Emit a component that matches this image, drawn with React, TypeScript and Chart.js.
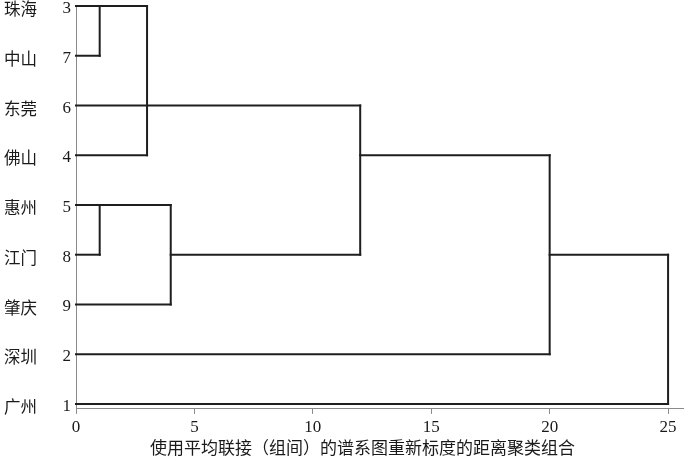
import React, { useEffect, useRef } from "react";
import { Chart, registerables } from "chart.js";

Chart.register(...registerables);

// Leaves from top to bottom
const leafNames = ["珠海", "中山", "东莞", "佛山", "惠州", "江门", "肇庆", "深圳", "广州"];
const leafIds = ["3", "7", "6", "4", "5", "8", "9", "2", "1"];
const xTicks = [0, 5, 10, 15, 20, 25];
const xTitle = "使用平均联接（组间）的谱系图重新标度的距离聚类组合";

// Horizontal links: [fromDistance, toDistance, leafRow]
const horizontalLinks: number[][] = [
  [0, 3, 0],
  [0, 1, 1],
  [0, 12, 2],
  [0, 3, 3],
  [12, 20, 3],
  [0, 4, 4],
  [0, 1, 5],
  [4, 12, 5],
  [20, 25, 5],
  [0, 4, 6],
  [0, 20, 7],
  [0, 25, 8],
];

// Vertical links: [distance, fromRow, toRow]
const verticalLinks: number[][] = [
  [1, 0, 1],
  [3, 0, 3],
  [1, 4, 5],
  [4, 4, 6],
  [12, 2, 5],
  [20, 3, 7],
  [25, 5, 8],
];

const LINE = "#1e1e1e";
const AXIS = "#8a8a8a";
const SERIF = "'Liberation Serif', 'Noto Sans CJK SC', serif";

export default function App() {
  const ref = useRef<HTMLCanvasElement | null>(null);

  useEffect(() => {
    if (!ref.current) return;
    const seg = (pts: { x: number; y: number }[]) => ({
      type: "line" as const,
      data: pts,
      borderColor: LINE,
      borderWidth: 2,
      pointRadius: 0,
      fill: false,
      clip: false as any,
      xAxisID: "x",
      yAxisID: "yNum",
      borderCapStyle: "square" as const,
    });
    const datasets: any[] = [
      ...horizontalLinks.map(([a, b, r]) => seg([{ x: a, y: r }, { x: b, y: r }])),
      ...verticalLinks.map(([d, r0, r1]) => seg([{ x: d, y: r0 }, { x: d, y: r1 }])),
    ];
    const rowTicks = (scale: any) => {
      scale.ticks = leafNames.map((_, i) => ({ value: i }));
    };
    const fitY = (w: number) => (scale: any) => {
      scale.width = w;
      scale.paddingTop = 0;
      scale.paddingBottom = 0;
    };
    const chart = new Chart(ref.current, {
      type: "line",
      data: { datasets },
      options: {
        animation: false,
        responsive: false,
        events: [],
        layout: { padding: { left: 4, top: 6, right: 17, bottom: 0 } },
        plugins: { legend: { display: false }, tooltip: { enabled: false }, title: { display: false } },
        scales: {
          x: {
            type: "linear",
            position: "bottom",
            min: 0,
            max: 25.63,
            afterBuildTicks: (scale: any) => {
              scale.ticks = xTicks.map((v) => ({ value: v }));
            },
            grid: { display: true, drawOnChartArea: false, drawTicks: true, tickLength: 5, color: AXIS },
            border: { display: true, color: AXIS, width: 1 },
            ticks: { padding: 3, color: "#1a1a1a", font: { family: SERIF, size: 17 } },
            title: {
              display: true,
              text: xTitle + "\u3000\u3000",
              color: "#1a1a1a",
              font: { family: SERIF, size: 17, lineHeight: 1.1 },
              padding: { top: 0, bottom: 2 },
            },
          },
          yNum: {
            type: "linear",
            position: "left",
            weight: 0,
            reverse: true,
            min: 0,
            max: 8.1,
            afterBuildTicks: rowTicks,
            afterFit: fitY(14),
            grid: { display: false, drawTicks: false },
            border: { display: true, color: AXIS, width: 1 },
            ticks: {
              padding: 5,
              color: "#1a1a1a",
              font: { family: SERIF, size: 17, lineHeight: 0.3 },
              callback: (v: any) => ["", leafIds[Math.round(Number(v))] ?? ""],
            },
          },
          yName: {
            type: "linear",
            position: "left",
            weight: 1,
            reverse: true,
            min: 0,
            max: 8.1,
            afterBuildTicks: rowTicks,
            afterFit: fitY(58),
            grid: { display: false, drawTicks: false },
            border: { display: false },
            ticks: {
              padding: 0,
              crossAlign: "far",
              color: "#1a1a1a",
              font: { family: "'Noto Sans CJK SC', sans-serif", size: 16.5, lineHeight: 0.36 },
              callback: (v: any) => ["", leafNames[Math.round(Number(v))] ?? ""],
            },
          },
        },
      } as any,
    });
    return () => chart.destroy();
  }, []);

  return (
    <div style={{ position: "fixed", left: 0, top: 0, width: 700, height: 461, background: "#fff" }}>
      <canvas ref={ref} width={700} height={461} style={{ display: "block" }} />
    </div>
  );
}
